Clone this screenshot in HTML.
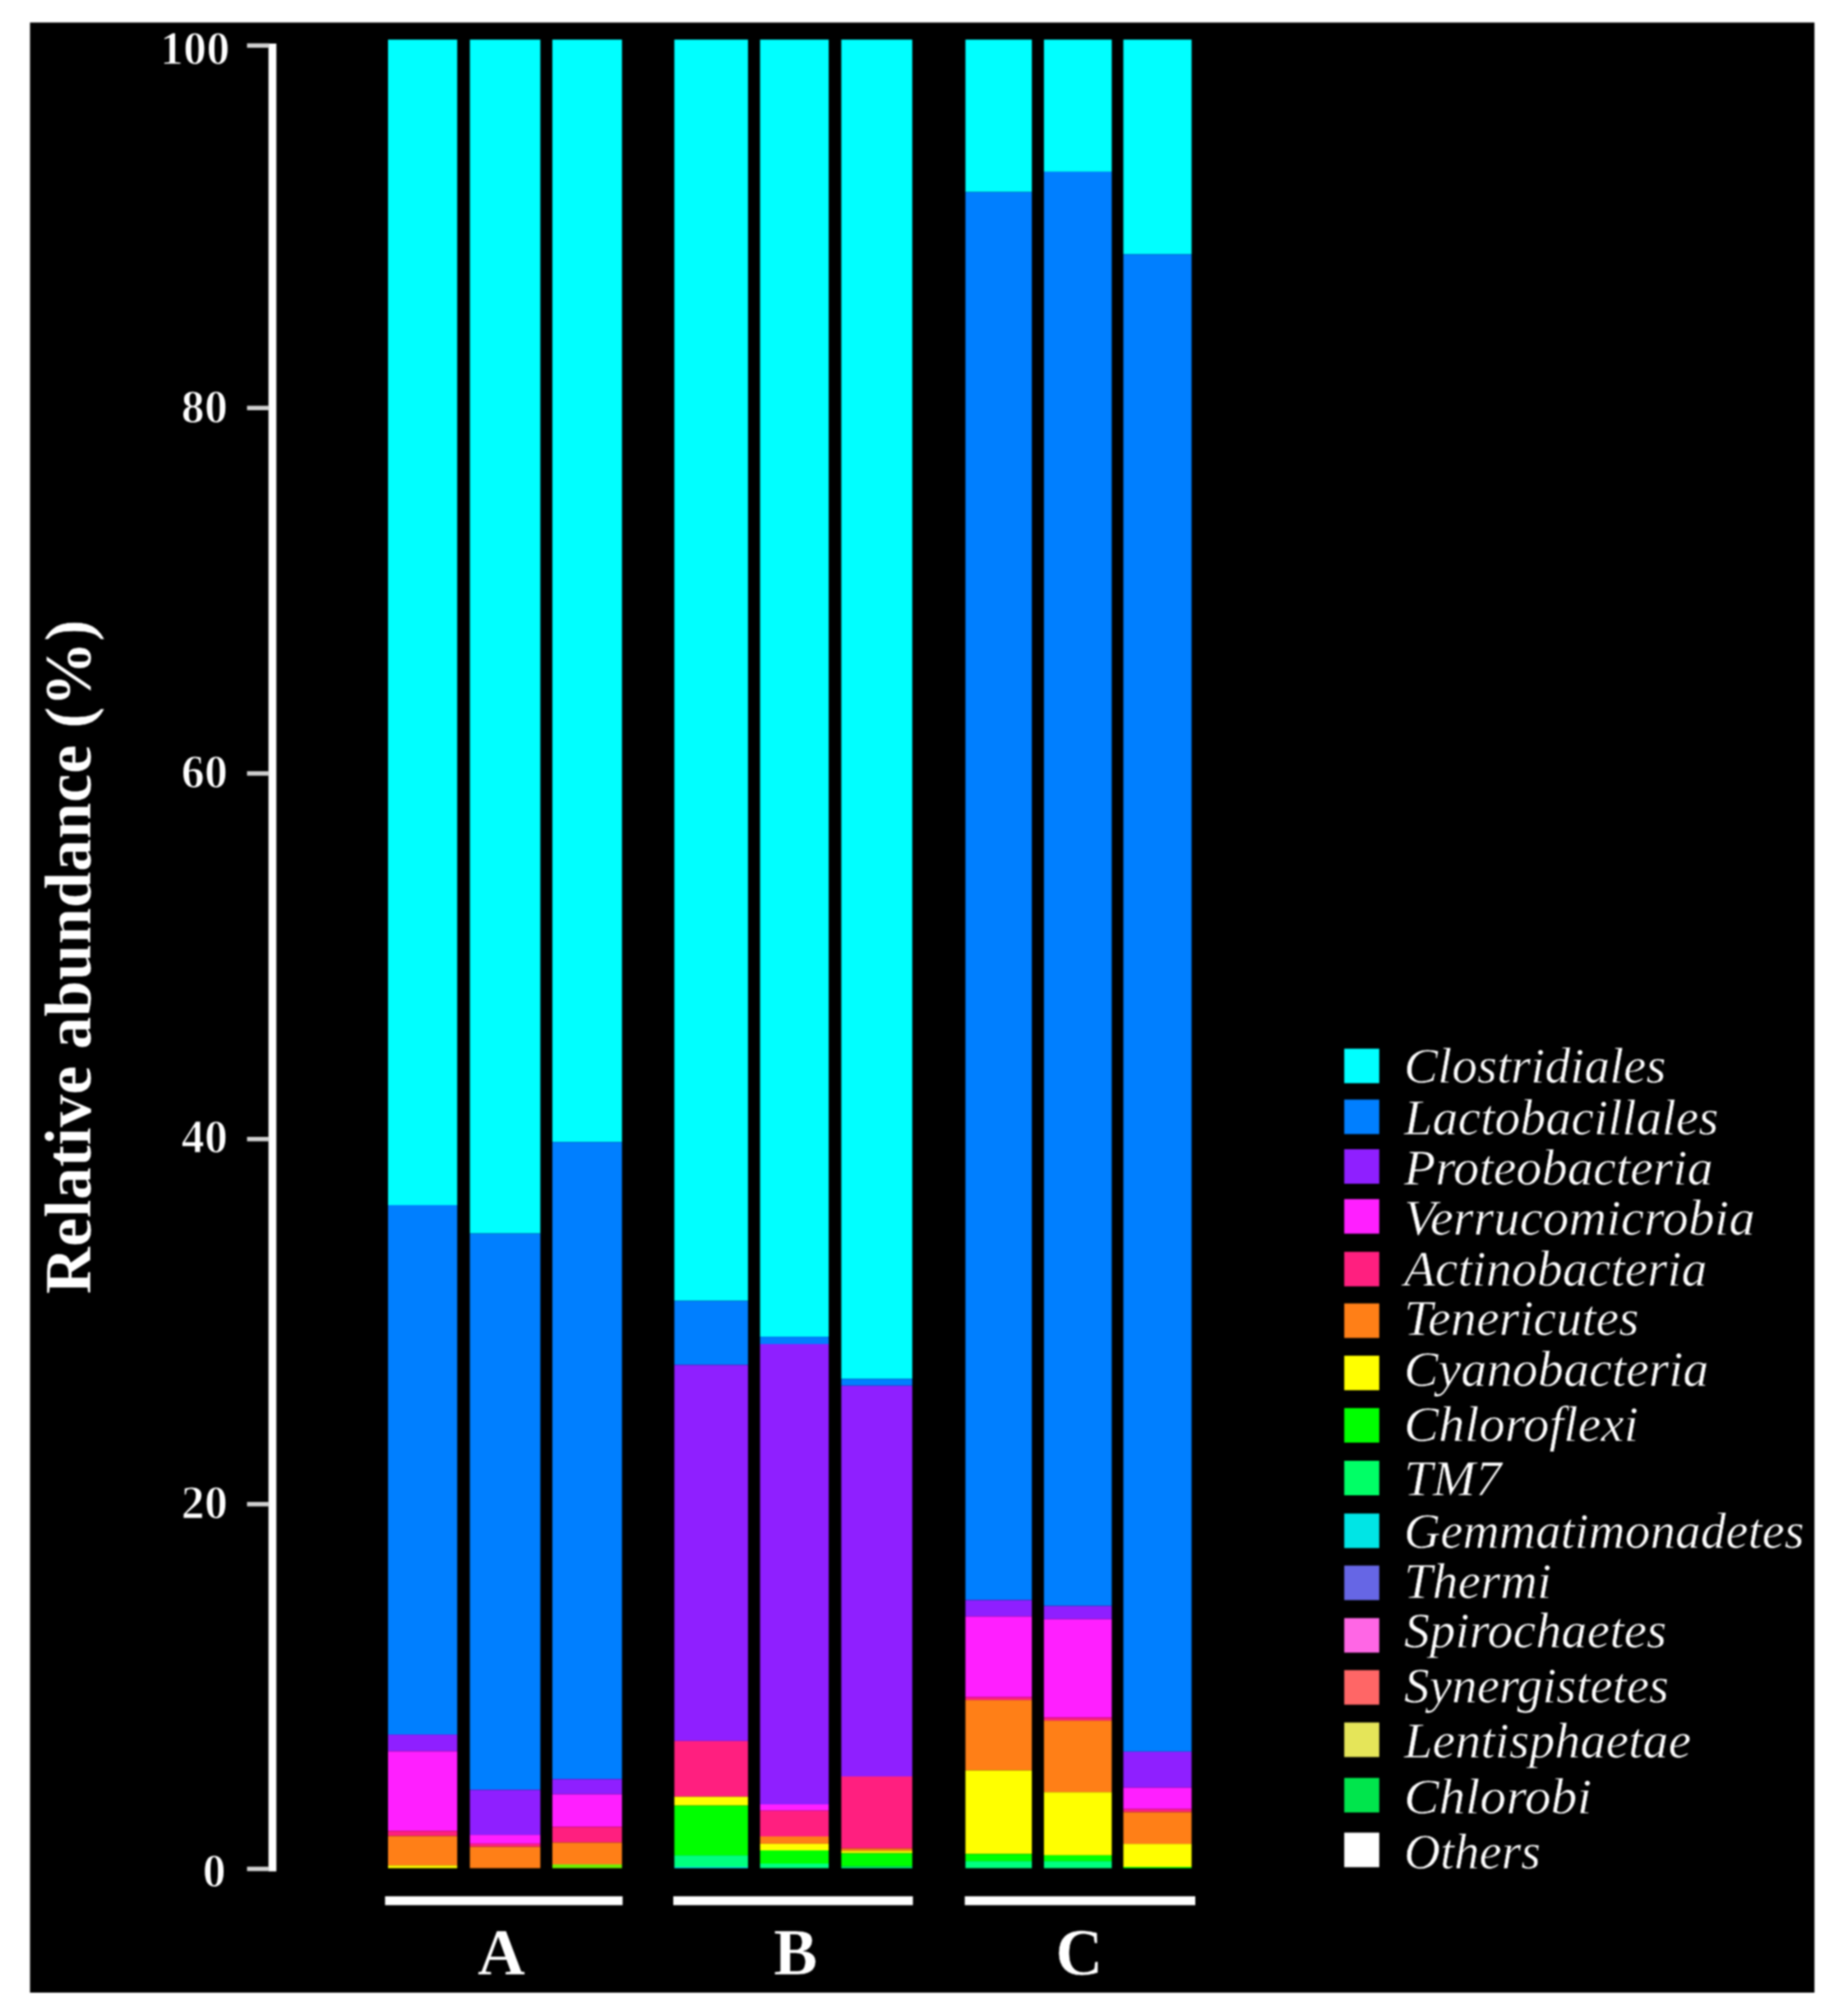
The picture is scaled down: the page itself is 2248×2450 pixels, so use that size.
<!DOCTYPE html>
<html lang="en"><head><meta charset="utf-8"><title>Relative abundance</title>
<style>
html,body{margin:0;padding:0;background:#fff;}
body{width:2248px;height:2450px;overflow:hidden;}
svg{display:block;}
text{font-family:"Liberation Serif",serif;fill:#fff;}
.b{font-weight:bold;stroke:#000;stroke-width:0.5px;}
.d{stroke-width:1.2px;}
.i{font-style:italic;font-size:62px;stroke:#000;stroke-width:0.6px;}
</style></head><body>
<svg width="2248" height="2450" viewBox="0 0 2248 2450">
<rect x="0" y="0" width="2248" height="2450" fill="#fff"/>
<defs><filter id="soft" x="-2%" y="-2%" width="104%" height="104%" color-interpolation-filters="sRGB"><feConvolveMatrix order="5" kernelMatrix="1 4 6 4 1 4 16 24 16 4 6 24 36 24 6 4 16 24 16 4 1 4 6 4 1" divisor="256" edgeMode="duplicate" preserveAlpha="false"/></filter></defs>
<g filter="url(#soft)">
<rect x="36.5" y="27.4" width="2170.7" height="2396.6" fill="#000"/>
<g id="bars">
<rect x="472.0" y="48.2" width="84.2" height="1417.8" fill="#00FFFF"/>
<rect x="472.0" y="1466.0" width="84.2" height="644.1" fill="#007FFF"/>
<rect x="472.0" y="2110.1" width="84.2" height="20.3" fill="#8F1FFF"/>
<rect x="472.0" y="2130.4" width="84.2" height="96.9" fill="#FF1FFF"/>
<rect x="472.0" y="2227.3" width="84.2" height="6.2" fill="#FF1F7F"/>
<rect x="472.0" y="2233.5" width="84.2" height="35.8" fill="#FF7F17"/>
<rect x="472.0" y="2269.3" width="84.2" height="3.3" fill="#FFFF00"/>
<rect x="571.6" y="48.2" width="85.7" height="1452.3" fill="#00FFFF"/>
<rect x="571.6" y="1500.5" width="85.7" height="676.8" fill="#007FFF"/>
<rect x="571.6" y="2177.3" width="85.7" height="54.8" fill="#8F1FFF"/>
<rect x="571.6" y="2232.1" width="85.7" height="10.7" fill="#FF1FFF"/>
<rect x="571.6" y="2242.8" width="85.7" height="3.8" fill="#FF1F7F"/>
<rect x="571.6" y="2246.6" width="85.7" height="26.0" fill="#FF7F17"/>
<rect x="671.9" y="48.2" width="84.7" height="1341.1" fill="#00FFFF"/>
<rect x="671.9" y="1389.3" width="84.7" height="775.0" fill="#007FFF"/>
<rect x="671.9" y="2164.3" width="84.7" height="18.4" fill="#8F1FFF"/>
<rect x="671.9" y="2182.7" width="84.7" height="39.7" fill="#FF1FFF"/>
<rect x="671.9" y="2222.4" width="84.7" height="19.0" fill="#FF1F7F"/>
<rect x="671.9" y="2241.4" width="84.7" height="26.6" fill="#FF7F17"/>
<rect x="671.9" y="2268.0" width="84.7" height="4.6" fill="#70F000"/>
<rect x="820.3" y="48.2" width="89.6" height="1534.2" fill="#00FFFF"/>
<rect x="820.3" y="1582.4" width="89.6" height="78.0" fill="#007FFF"/>
<rect x="820.3" y="1660.4" width="89.6" height="457.5" fill="#8F1FFF"/>
<rect x="820.3" y="2117.9" width="89.6" height="67.8" fill="#FF1F7F"/>
<rect x="820.3" y="2185.7" width="89.6" height="10.8" fill="#FFFF00"/>
<rect x="820.3" y="2196.5" width="89.6" height="60.6" fill="#00FF00"/>
<rect x="820.3" y="2257.1" width="89.6" height="13.9" fill="#00FF7F"/>
<rect x="820.3" y="2271.0" width="89.6" height="1.6" fill="#00E5E5"/>
<rect x="924.6" y="48.2" width="83.5" height="1577.9" fill="#00FFFF"/>
<rect x="924.6" y="1626.1" width="83.5" height="8.9" fill="#007FFF"/>
<rect x="924.6" y="1635.0" width="83.5" height="560.0" fill="#8F1FFF"/>
<rect x="924.6" y="2195.0" width="83.5" height="7.7" fill="#FF1FFF"/>
<rect x="924.6" y="2202.7" width="83.5" height="31.3" fill="#FF1F7F"/>
<rect x="924.6" y="2234.0" width="83.5" height="8.9" fill="#FF7F17"/>
<rect x="924.6" y="2242.9" width="83.5" height="8.1" fill="#FFFF00"/>
<rect x="924.6" y="2251.0" width="83.5" height="16.0" fill="#00FF00"/>
<rect x="924.6" y="2267.0" width="83.5" height="5.6" fill="#00FF7F"/>
<rect x="1023.4" y="48.2" width="86.3" height="1629.1" fill="#00FFFF"/>
<rect x="1023.4" y="1677.3" width="86.3" height="8.4" fill="#007FFF"/>
<rect x="1023.4" y="1685.7" width="86.3" height="475.3" fill="#8F1FFF"/>
<rect x="1023.4" y="2161.0" width="86.3" height="87.6" fill="#FF1F7F"/>
<rect x="1023.4" y="2248.6" width="86.3" height="2.9" fill="#FF7F17"/>
<rect x="1023.4" y="2251.5" width="86.3" height="3.0" fill="#FFFF00"/>
<rect x="1023.4" y="2254.5" width="86.3" height="16.0" fill="#00FF00"/>
<rect x="1023.4" y="2270.5" width="86.3" height="2.1" fill="#00FF7F"/>
<rect x="1174.4" y="48.2" width="80.8" height="185.4" fill="#00FFFF"/>
<rect x="1174.4" y="233.6" width="80.8" height="1712.9" fill="#007FFF"/>
<rect x="1174.4" y="1946.5" width="80.8" height="19.9" fill="#8F1FFF"/>
<rect x="1174.4" y="1966.4" width="80.8" height="98.2" fill="#FF1FFF"/>
<rect x="1174.4" y="2064.6" width="80.8" height="3.5" fill="#FF1F7F"/>
<rect x="1174.4" y="2068.1" width="80.8" height="85.6" fill="#FF7F17"/>
<rect x="1174.4" y="2153.7" width="80.8" height="101.6" fill="#FFFF00"/>
<rect x="1174.4" y="2255.3" width="80.8" height="8.8" fill="#00FF00"/>
<rect x="1174.4" y="2264.1" width="80.8" height="8.5" fill="#00FF7F"/>
<rect x="1269.9" y="48.2" width="82.5" height="160.7" fill="#00FFFF"/>
<rect x="1269.9" y="208.9" width="82.5" height="1744.7" fill="#007FFF"/>
<rect x="1269.9" y="1953.6" width="82.5" height="16.1" fill="#8F1FFF"/>
<rect x="1269.9" y="1969.7" width="82.5" height="119.7" fill="#FF1FFF"/>
<rect x="1269.9" y="2089.4" width="82.5" height="3.7" fill="#FF1F7F"/>
<rect x="1269.9" y="2093.1" width="82.5" height="87.1" fill="#FF7F17"/>
<rect x="1269.9" y="2180.2" width="82.5" height="76.7" fill="#FFFF00"/>
<rect x="1269.9" y="2256.9" width="82.5" height="7.2" fill="#00FF00"/>
<rect x="1269.9" y="2264.1" width="82.5" height="8.5" fill="#00FF7F"/>
<rect x="1366.5" y="48.2" width="83.0" height="261.1" fill="#00FFFF"/>
<rect x="1366.5" y="309.3" width="83.0" height="1821.5" fill="#007FFF"/>
<rect x="1366.5" y="2130.8" width="83.0" height="43.8" fill="#8F1FFF"/>
<rect x="1366.5" y="2174.6" width="83.0" height="26.1" fill="#FF1FFF"/>
<rect x="1366.5" y="2200.7" width="83.0" height="3.7" fill="#FF1F7F"/>
<rect x="1366.5" y="2204.4" width="83.0" height="38.7" fill="#FF7F17"/>
<rect x="1366.5" y="2243.1" width="83.0" height="27.9" fill="#FFFF00"/>
<rect x="1366.5" y="2271.0" width="83.0" height="1.6" fill="#00FF00"/>
</g>
<g id="axis" fill="#fff">
<rect x="326.6" y="53" width="9.6" height="2223.5"/>
<rect x="300.5" y="52.7" width="27" height="5.4" fill="#d0d0d0"/>
<rect x="300.5" y="493.6" width="27" height="5.4" fill="#d0d0d0"/>
<rect x="300.5" y="938.2" width="27" height="5.4" fill="#d0d0d0"/>
<rect x="300.5" y="1383.0" width="27" height="5.4" fill="#d0d0d0"/>
<rect x="300.5" y="1827.1" width="27" height="5.4" fill="#d0d0d0"/>
<rect x="300.5" y="2270.8" width="27" height="5.4" fill="#d0d0d0"/>
</g>
<g id="ticklabels" class="b d" font-size="56.5" text-anchor="middle">
<text x="237.00" y="78.4">100</text>
<text x="248.75" y="513.5">80</text>
<text x="248.75" y="957.8">60</text>
<text x="248.75" y="1402.3">40</text>
<text x="248.75" y="1846.5">20</text>
<text x="260.65" y="2294.5">0</text>
</g>
<text class="b" font-size="79.4" text-anchor="middle" transform="translate(109.6 1164) rotate(-90)">Relative abundance (%)</text>
<g id="groups" fill="#fff">
<rect x="468.4" y="2306.8" width="289.0" height="10.8"/>
<rect x="819.0" y="2306.8" width="291.5" height="10.8"/>
<rect x="1173.6" y="2306.8" width="280.4" height="10.8"/>
</g>
<g class="b" font-size="80" text-anchor="middle">
<text x="609.8" y="2401.5">A</text>
<text x="967.6" y="2401.5">B</text>
<text x="1313.0" y="2401.5">C</text>
</g>
<g id="legend">
<rect x="1635.2" y="1275.7" width="42.6" height="42" fill="#00FFFF"/><text class="i" x="1708" y="1316.9" textLength="318.4" lengthAdjust="spacingAndGlyphs">Clostridiales</text>
<rect x="1635.2" y="1337.6" width="42.6" height="42" fill="#007FFF"/><text class="i" x="1708" y="1380.3">Lactobacillales</text>
<rect x="1635.2" y="1398.0" width="42.6" height="42" fill="#8F1FFF"/><text class="i" x="1708" y="1441.1" textLength="375.6" lengthAdjust="spacingAndGlyphs">Proteobacteria</text>
<rect x="1635.2" y="1458.7" width="42.6" height="42" fill="#FF1FFF"/><text class="i" x="1708" y="1501.8" textLength="426.9" lengthAdjust="spacingAndGlyphs">Verrucomicrobia</text>
<rect x="1635.2" y="1522.8" width="42.6" height="42" fill="#FF1F7F"/><text class="i" x="1708" y="1564.0">Actinobacteria</text>
<rect x="1635.2" y="1585.6" width="42.6" height="42" fill="#FF7F17"/><text class="i" x="1708" y="1624.3" textLength="285.6" lengthAdjust="spacingAndGlyphs">Tenericutes</text>
<rect x="1635.2" y="1649.2" width="42.6" height="42" fill="#FFFF00"/><text class="i" x="1708" y="1685.5" textLength="370.5" lengthAdjust="spacingAndGlyphs">Cyanobacteria</text>
<rect x="1635.2" y="1712.9" width="42.6" height="42" fill="#00FF00"/><text class="i" x="1708" y="1752.7" textLength="285.1" lengthAdjust="spacingAndGlyphs">Chloroflexi</text>
<rect x="1635.2" y="1777.0" width="42.6" height="42" fill="#00FF66"/><text class="i" x="1708" y="1819.3" textLength="118.4" lengthAdjust="spacingAndGlyphs">TM7</text>
<rect x="1635.2" y="1841.2" width="42.6" height="42" fill="#00E5E5"/><text class="i" x="1708" y="1883.0" textLength="486.5" lengthAdjust="spacingAndGlyphs">Gemmatimonadetes</text>
<rect x="1635.2" y="1904.5" width="42.6" height="42" fill="#6666E5"/><text class="i" x="1708" y="1943.6">Thermi</text>
<rect x="1635.2" y="1968.4" width="42.6" height="42" fill="#FF66E5"/><text class="i" x="1708" y="2004.3" textLength="319.3" lengthAdjust="spacingAndGlyphs">Spirochaetes</text>
<rect x="1635.2" y="2031.7" width="42.6" height="42" fill="#FF6666"/><text class="i" x="1708" y="2071.1" textLength="321.8" lengthAdjust="spacingAndGlyphs">Synergistetes</text>
<rect x="1635.2" y="2095.4" width="42.6" height="42" fill="#E5E559"/><text class="i" x="1708" y="2138.1" textLength="349.1" lengthAdjust="spacingAndGlyphs">Lentisphaetae</text>
<rect x="1635.2" y="2162.8" width="42.6" height="42" fill="#00E54C"/><text class="i" x="1708" y="2205.9" textLength="228.3" lengthAdjust="spacingAndGlyphs">Chlorobi</text>
<rect x="1635.2" y="2229.4" width="42.6" height="42" fill="#FFFFFF"/><text class="i" x="1708" y="2272.5" textLength="166.1" lengthAdjust="spacingAndGlyphs">Others</text>
</g>
</g>
</svg>
</body></html>
